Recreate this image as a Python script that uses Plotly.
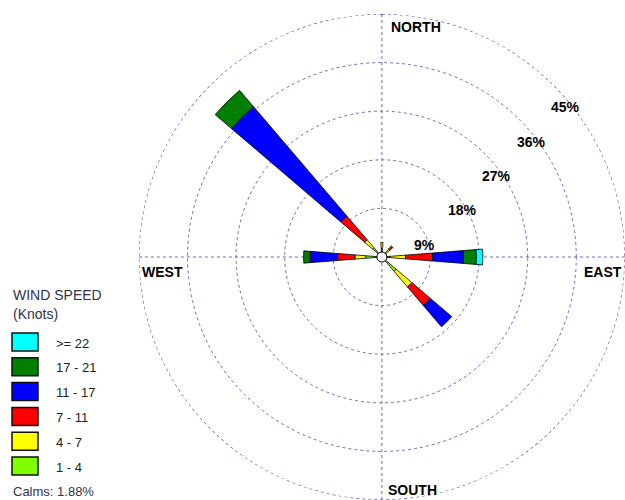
import math
import plotly.graph_objects as go

# ---------------- data ----------------
directions = ["N", "NNE", "NE", "ENE", "E", "ESE", "SE", "SSE",
              "S", "SSW", "SW", "WSW", "W", "WNW", "NW", "NNW"]
speed_bins = ["1 - 4", "4 - 7", "7 - 11", "11 - 17", "17 - 21", ">= 22"]
bin_colors = ["#80FF00", "#FFFF00", "#FF0000", "#0000FF", "#007F00", "#00FFFF"]

freq_1_4   = [1.6, 0, 1.0, 0, 1.5, 0, 3.5, 0, 0, 0, 0, 0, 3.0, 0, 2.3, 0]
freq_4_7   = [1.1, 0, 0.9, 0, 2.9, 0, 3.8, 0, 0, 0, 0, 0, 2.0, 0, 1.9, 0]
freq_7_11  = [0, 0, 0.8, 0, 5.0, 0, 4.5, 0, 0, 0, 0, 0, 3.2, 0, 5.8, 0]
freq_11_17 = [0, 0, 0, 0, 5.7, 0, 5.2, 0, 0, 0, 0, 0, 5.1, 0, 26.6, 0]
freq_17_21 = [0, 0, 0, 0, 2.4, 0, 0, 0, 0, 0, 0, 0, 1.2, 0, 4.0, 0]
freq_22_up = [0, 0, 0, 0, 1.2, 0, 0, 0, 0, 0, 0, 0, 0, 0, 0, 0]

radial_ticks = [9, 18, 27, 36, 45]
radial_labels = ["9%", "18%", "27%", "36%", "45%"]
calms_pct = 1.88
legend_title = ["WIND SPEED", "(Knots)"]
compass_labels = ["NORTH", "EAST", "SOUTH", "WEST"]

series = [freq_1_4, freq_4_7, freq_7_11, freq_11_17, freq_17_21, freq_22_up]

FONT = "Liberation Sans, Arial, sans-serif"
GRID = "#6C6CC0"
W, H = 625, 500
DOM_X = [0.222, 1.0]
DOM_Y = [0.0, 0.972]
R_MAX = radial_ticks[-1]

fig = go.Figure()
step = 360 / len(directions)
for name, color, vals in zip(speed_bins, bin_colors, series):
    th = [i * step for i, v in enumerate(vals) if v > 0]
    rr = [v for v in vals if v > 0]
    fig.add_trace(go.Barpolar(
        r=rr, theta=th, name=name, width=9,
        marker=dict(color=color, line=dict(color="black", width=0.8)),
        showlegend=False,
    ))

# outer grid ring (the outermost percentage circle)
ring_theta = list(range(0, 361, 2))
fig.add_trace(go.Scatterpolar(
    r=[R_MAX] * len(ring_theta), theta=ring_theta, mode="lines",
    line=dict(color="#5A5AB8", width=1.2, dash="dot"),
    showlegend=False, hoverinfo="skip",
))

# center calm circle
fig.add_trace(go.Scatterpolar(
    r=[0], theta=[0], mode="markers",
    marker=dict(size=10, color="white", line=dict(color="black", width=1)),
    showlegend=False, hoverinfo="skip",
))

fig.update_layout(
    width=W, height=H,
    margin=dict(l=0, r=0, t=0, b=0),
    paper_bgcolor="white",
    barmode="stack",
    polar=dict(
        domain=dict(x=DOM_X, y=DOM_Y),
        bgcolor="white",
        radialaxis=dict(
            range=[0, R_MAX], tickvals=radial_ticks,
            showticklabels=False, showline=False, ticks="",
            gridcolor=GRID, griddash="dot", gridwidth=1,
        ),
        angularaxis=dict(
            rotation=90, direction="clockwise",
            tickvals=[0, 90, 180, 270], showticklabels=False,
            ticks="", showline=False,
            gridcolor=GRID, griddash="dot", gridwidth=1,
        ),
    ),
)

def px(x, y):
    return x / W, 1 - y / H

ann = []

# radial percentage labels, placed below-right of where each ring meets the NE spoke
dw = (DOM_X[1] - DOM_X[0]) * W
dh = (DOM_Y[1] - DOM_Y[0]) * H
rad_px = min(dw, dh) / 2
cx = DOM_X[0] * W + dw / 2
cy = (1 - DOM_Y[1]) * H + dh / 2
for v, lab in zip(radial_ticks, radial_labels):
    d = v / R_MAX * rad_px
    x = cx + d * math.cos(math.radians(45)) - 4.5
    y = cy - d * math.sin(math.radians(45)) + 22
    xp, yp = px(x, y)
    ann.append(dict(x=xp, y=yp, xref="paper", yref="paper", text="<b>%s</b>" % lab,
                    showarrow=False, font=dict(family=FONT, size=14, color="black"),
                    xanchor="left", yanchor="middle"))

compass_pos = [(416, 27), (603, 272), (412, 490), (163, 272)]
for lab, (x, y) in zip(compass_labels, compass_pos):
    xp, yp = px(x, y)
    ann.append(dict(x=xp, y=yp, xref="paper", yref="paper", text="<b>%s</b>" % lab,
                    showarrow=False, font=dict(family=FONT, size=14, color="black"),
                    xanchor="center", yanchor="middle"))

# legend (manual)
for i, t in enumerate(legend_title):
    xp, yp = px(11, 295 + i * 19)
    ann.append(dict(x=xp, y=yp, xref="paper", yref="paper", text=t, showarrow=False,
                    font=dict(family=FONT, size=14, color="#333344"),
                    xanchor="left", yanchor="middle"))

shapes = []
order = list(range(len(speed_bins)))[::-1]
for k, idx in enumerate(order):
    top = 333 + k * 24.8
    x0, y0 = px(12, top)
    x1, y1 = px(38, top + 18)
    shapes.append(dict(type="rect", xref="paper", yref="paper", x0=x0, x1=x1, y0=y1, y1=y0,
                       fillcolor=bin_colors[idx], line=dict(color="#111111", width=1.5)))
    xp, yp = px(54, top + 10)
    ann.append(dict(x=xp, y=yp, xref="paper", yref="paper", text=speed_bins[idx],
                    showarrow=False, font=dict(family=FONT, size=13, color="#222222"),
                    xanchor="left", yanchor="middle"))

xp, yp = px(11, 491)
ann.append(dict(x=xp, y=yp, xref="paper", yref="paper", text="Calms: %.2f%%" % calms_pct,
                showarrow=False, font=dict(family=FONT, size=13, color="#333344"),
                xanchor="left", yanchor="middle"))

fig.update_layout(annotations=ann, shapes=shapes)
fig.write_html("out.html")
